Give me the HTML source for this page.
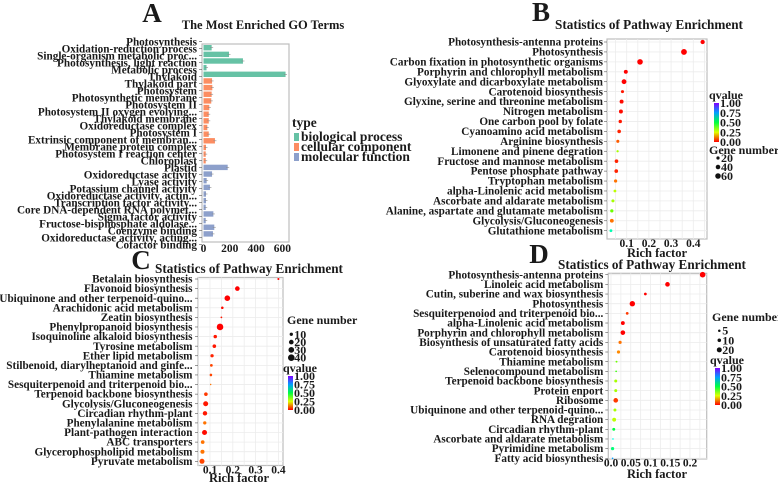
<!DOCTYPE html>
<html><head><meta charset="utf-8">
<style>
html,body{margin:0;padding:0;background:#fff;}
svg{display:block;font-family:"Liberation Serif",serif;font-weight:bold;}
</style></head>
<body>
<svg id="fig" width="778" height="483" viewBox="0 0 778 483" xmlns="http://www.w3.org/2000/svg"></svg>
<script>
// ---------- Panel A data ----------
const goTerms = ["Photosynthesis","Oxidation-reduction process","Single-organism metabolic proc...","Photosynthesis, light reaction","Metabolic process","Thylakoid","Thylakoid part","Photosystem","Photosynthetic membrane","Photosystem II","Photosystem II oxygen evolving...","Thylakoid membrane","Oxidoreductase complex","Photosystem I","Extrinsic component of membran...","Membrane protein complex","Photosystem I reaction center","Chloroplast","Plastid","Oxidoreductase activity","Lyase activity","Potassium channel activity","Oxidoreductase activity, actin...","Transcription factor activity...","Core DNA-dependent RNA polymet...","Sigma factor activity","Fructose-bisphosphate aldolase...","Coenzyme binding","Oxidoreductase activity, acting...","Cofactor binding"];
const goCounts = [0,62,194,300,23,624,65,67,62,59,44,40,40,29,40,87,19,17,17,184,65,24,49,19,19,17,75,17,82,72];
const goTypes = [0,0,0,0,0,0,1,1,1,1,1,1,1,1,1,1,1,1,1,2,2,2,2,2,2,2,2,2,2,2];
const goTypeNames = ["biological process","cellular component","molecular function"];
const goTicks = [0,200,400,600];

// ---------- Panel B data ----------
const bPaths = ["Photosynthesis-antenna proteins","Photosynthesis","Carbon fixation in photosynthetic organisms","Porphyrin and chlorophyll metabolism","Glyoxylate and dicarboxylate metabolism","Carotenoid biosynthesis","Glyxine, serine and threonine metabolism","Nitrogen metabolism","One carbon pool by folate","Cyanoamino acid metabolism","Arginine biosynthesis","Limonene and pinene degration","Fructose and mannose metabolism","Pentose phosphate pathway","Tryptophan metabolism","alpha-Linolenic acid metabolism","Ascorbate and aldarate metabolism","Alanine, aspartate and glutamate metabolism","Glycolysis/Gluconeogenesis","Glutathione metabolism"];
const bRich = [0.442,0.358,0.160,0.096,0.088,0.081,0.077,0.074,0.071,0.066,0.060,0.059,0.054,0.053,0.050,0.047,0.038,0.033,0.033,0.029];
const bGenes = [35,65,60,30,45,18,30,30,22,25,18,10,25,25,20,15,18,20,28,15];
const bQ = [0.0,0.0,0.0,0.0,0.0,0.02,0.01,0.01,0.02,0.03,0.08,0.3,0.03,0.03,0.1,0.28,0.3,0.35,0.1,0.6];
const bTicks = [0.1,0.2,0.3,0.4];
const bGeneLegend = [20,40,60];

// ---------- Panel C data ----------
const cPaths = ["Betalain biosynthesis","Flavonoid biosynthesis","Ubiquinone and other terpenoid-quino...","Arachidonic acid metabolism","Zeatin biosynthesis","Phenylpropanoid biosynthesis","Isoquinoline alkaloid biosynthesis","Tyrosine metabolism","Ether lipid metabolism","Stilbenoid, diarylheptanoid and ginfe...","Thiamine metabolism","Sesquiterpenoid and triterpenoid bio...","Terpenoid backbone biosynthesis","Glycolysis/Gluconeogenesis","Circadian rhythm-plant","Phenylalanine metabolism","Plant-pathogen interaction","ABC transporters","Glycerophospholipid metabolism","Pyruvate metabolism"];
const cRich = [0.400,0.220,0.176,0.154,0.150,0.144,0.123,0.119,0.109,0.106,0.104,0.103,0.082,0.081,0.078,0.077,0.076,0.068,0.067,0.065];
const cGenes = [4,20,29,6,3,40,11,12,10,7,6,2,12,23,18,10,23,12,15,23];
const cQ = [0.0,0.0,0.0,0.01,0.02,0.0,0.02,0.02,0.03,0.06,0.06,0.1,0.05,0.02,0.02,0.1,0.01,0.1,0.1,0.06];
const cTicks = [0.1,0.2,0.3,0.4];
const cGeneLegend = [10,20,30,40];

// ---------- Panel D data ----------
const dPaths = ["Photosynthesis-antenna proteins","Linoleic acid metabolism","Cutin, suberine and wax biosynthesis","Photosynthesis","Sesquiterpenoiod and triterpenoid bio...","alpha-Linolenic acid metabolism","Porphyrin and chlorophyll metabolism","Biosynthesis of unsaturated fatty acids","Carotenoid biosynthesis","Thiamine metabolism","Selenocompound metabolism","Terpenoid backbone biosynthesis","Protein enport","Ribosome","Ubiquinone and other terpenoid-quino...","RNA degration","Circadian rhythm-plant","Ascorbate and aldarate metabolism","Pyrimidine metabolism","Fatty acid biosynthesis"];
const dRich = [0.232,0.143,0.087,0.054,0.041,0.030,0.030,0.023,0.019,0.014,0.013,0.012,0.012,0.012,0.010,0.008,0.007,0.005,0.004,0.004];
const dGenes = [25,17,6,23,6,12,17,8,8,3,2,7,7,17,7,12,7,2,8,2];
const dQ = [0.0,0.0,0.0,0.0,0.05,0.0,0.0,0.1,0.12,0.35,0.4,0.3,0.3,0.05,0.3,0.28,0.5,0.65,0.55,0.75];
const dTicks = [0.0,0.05,0.1,0.15,0.2];
const dGeneLegend = [5,10,20];

const NS = "http://www.w3.org/2000/svg";
const svg = document.getElementById("fig");
function el(tag, attrs, parent){
  const e = document.createElementNS(NS, tag);
  for (const k in attrs) e.setAttribute(k, attrs[k]);
  (parent||svg).appendChild(e);
  return e;
}
function txt(s, x, y, size, anchor, parent){
  const t = el("text", {x:x, y:y, "font-size":size, "text-anchor":anchor||"start", fill:"#1a1a1a"}, parent);
  t.textContent = s;
  return t;
}
function qColor(q){
  const h = Math.max(0, Math.min(1, q)) * 270;
  return "hsl(" + h + ",100%,50%)";
}

// ---------- Panel A ----------
(function(){
  const g = el("g", {});
  
  
  const L = txt("A", 152, 22, 27, "middle", g);
  
  
  const T = txt("The Most Enriched GO Terms", 263, 29, 12.5, "middle", g);
  
  
  const x0 = 203.5, k = 0.1315;
  const xs = v => x0 + v*k;
  const box = el("rect", {x:202, y:44, width:87, height:198, fill:"#fff", stroke:"#bdbdbd", "stroke-width":1.2}, g);
  
  
  const cols = ["#66c2a5","#fc8d62","#8da0cb"];
  goTerms.forEach((name, i) => {
    const ly = 41.7 + 7*i;
    const t = txt(name, 197, ly+3.8, 11.2, "end", g);
    
    
    el("line", {x1:199, x2:202, y1:ly, y2:ly, stroke:"#555", "stroke-width":0.6}, g);
    if (i === 0) return;
    const by = 47.7 + (i-1)*6.65;
    const w = xs(goCounts[i]) - x0;
    const r = el("rect", {x:x0, y:by-2.7, width:Math.max(w,0), height:5.4, fill:cols[goTypes[i]]}, g);
    
    
    el("line", {x1:xs(goCounts[i])-1.5, x2:xs(goCounts[i])+1.5, y1:by, y2:by, stroke:"#888", "stroke-width":0.6}, g);
  });
  goTicks.forEach(v => {
    const t = txt(String(v), xs(v), 252, 11.5, "middle", g);
    
    
  });
  const lt = txt("type", 292, 127, 13.5, "start", g);
  
  
  goTypeNames.forEach((n, i) => {
    const y = 137 + 10*i;
    const sw = el("rect", {x:294, y:y-4, width:5, height:8, fill:cols[i]}, g);
    
    
    const t = txt(n, 301, y+4, 13.5, "start", g);
    
    
  });
})();

// ---------- Dot plot helper ----------
function dotPanel(opt){
  const g = el("g", {});
  
  
  const L = txt(opt.letter, opt.letterX, opt.letterY, 27, "middle", g);
  
  
  const T = txt("Statistics of Pathway Enrichment", opt.titleX, opt.titleY, 13.2, "middle", g);
  
  
  const b = opt.box;
  const pa = el("rect", {x:b.x, y:b.y, width:b.w, height:b.h, fill:"#fff", stroke:"#bdbdbd", "stroke-width":1.2}, g);
  
  
  const xs = v => opt.x0 + v*opt.xk;
  const n = opt.paths.length;
  const ys = i => opt.yFirst + i*(opt.yLast-opt.yFirst)/(n-1);
  const step = (opt.ticks[1]-opt.ticks[0])/2;
  for (let v = opt.ticks[0]-2*step; v <= opt.ticks[opt.ticks.length-1]+2*step+1e-9; v += step){
    const x = xs(v);
    if (x > b.x+0.5 && x < b.x+b.w-0.5)
      el("line", {x1:x, x2:x, y1:b.y, y2:b.y+b.h, stroke:"#ececec", "stroke-width":0.8}, g);
  }
  opt.paths.forEach((p, i) => {
    el("line", {x1:b.x, x2:b.x+b.w, y1:ys(i), y2:ys(i), stroke:"#ececec", "stroke-width":0.8}, g);
  });
  opt.paths.forEach((p, i) => {
    const y = ys(i);
    const t = txt(p, opt.labelX, y+3.6, opt.fs, "end", g);
    
    
    el("line", {x1:b.x-3, x2:b.x, y1:y, y2:y, stroke:"#555", "stroke-width":0.6}, g);
    const c = el("circle", {cx:xs(opt.rich[i]), cy:y, r:opt.rk*Math.sqrt(opt.genes[i]), fill:qColor(opt.q[i])}, g);
    
    
  });
  opt.ticks.forEach(v => {
    const t = txt(opt.tickFmt(v), xs(v), opt.tickY, 11.5, "middle", g);
    
    
  });
  const xt = txt("Rich factor", opt.xTitleX, opt.xTitleY, 12.5, "middle", g);
  
  
  const q = opt.qLeg;
  const qt = txt("qvalue", q.x+12, q.y-4, 12, "middle", g);
  
  
  const gid = "grad" + opt.letter;
  const defs = el("defs", {}, g);
  const lg = el("linearGradient", {id:gid, x1:0, y1:1, x2:0, y2:0}, defs);
  [0,0.25,0.5,0.75,1].forEach(s => el("stop", {offset:s, "stop-color":qColor(s)}, lg));
  const cb = el("rect", {x:q.x, y:q.y, width:5, height:q.h, fill:"url(#"+gid+")"}, g);
  
  
  ["1.00","0.75","0.50","0.25","0.00"].forEach((s, i) => {
    const t = txt(s, q.x+6, q.y + i*q.h/4 + 4, 12, "start", g);
    
    
  });
  const gl = opt.gLeg;
  const gt = txt("Gene number", gl.tx, gl.ty, 12, "start", g);
  
  
  opt.gVals.forEach((v, i) => {
    const y = gl.y0 + i*gl.dy;
    const c = el("circle", {cx:gl.x, cy:y, r:opt.rk*Math.sqrt(v), fill:"#111"}, g);
    
    
    const t = txt(String(v), gl.x+3, y+4, 12, "start", g);
    
    
  });
}

dotPanel({name:"panel-b-pathway-dot-plot", letter:"B", letterX:541, letterY:21, titleX:649, titleY:29,
  box:{x:607, y:39, w:100, h:200}, x0:604.5, xk:222, paths:bPaths, rich:bRich, genes:bGenes, q:bQ,
  yFirst:42, yLast:230.7, labelX:603, fs:11.2, rk:0.36, ticks:bTicks, tickFmt:v=>v.toFixed(1),
  tickY:247, xTitleX:657, xTitleY:257,
  qLeg:{x:714, y:103, h:39}, gLeg:{tx:709, ty:154, x:718, y0:158, dy:9}, gVals:bGeneLegend});

dotPanel({name:"panel-c-pathway-dot-plot", letter:"C", letterX:141, letterY:269, titleX:249, titleY:273,
  box:{x:198, y:277.5, w:85, h:188}, x0:187.2, xk:228, paths:cPaths, rich:cRich, genes:cGenes, q:cQ,
  yFirst:279, yLast:461.3, labelX:192.5, fs:11.2, rk:0.52, ticks:cTicks, tickFmt:v=>v.toFixed(1),
  tickY:473.5, xTitleX:239, xTitleY:482,
  qLeg:{x:288, y:376, h:34}, gLeg:{tx:287, ty:324, x:291.3, y0:334.3, dy:7.8}, gVals:cGeneLegend});

dotPanel({name:"panel-d-pathway-dot-plot", letter:"D", letterX:539, letterY:263, titleX:652, titleY:269,
  box:{x:608.3, y:273.3, w:98.4, h:185.7}, x0:611, xk:395, paths:dPaths, rich:dRich, genes:dGenes, q:dQ,
  yFirst:274.7, yLast:458.3, labelX:603.3, fs:11.2, rk:0.56, ticks:dTicks, tickFmt:v=>(v===0?"0.0":String(v)),
  tickY:466.5, xTitleX:657, xTitleY:478,
  qLeg:{x:715, y:368, h:37}, gLeg:{tx:712, ty:321, x:719.3, y0:330.7, dy:9.6}, gVals:dGeneLegend});
</script>
</body></html>
